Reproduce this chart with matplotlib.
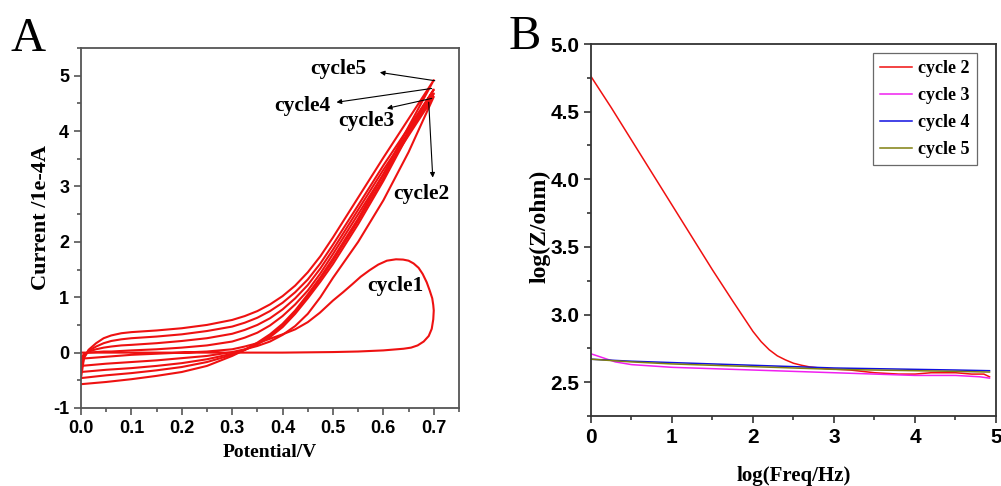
import numpy as np
import matplotlib
matplotlib.use("Agg")
import matplotlib.pyplot as plt
from matplotlib.ticker import MultipleLocator, FormatStrFormatter

plt.rcParams["axes.unicode_minus"] = False

SERIF = "Liberation Serif"
SANS  = "Liberation Sans"

# ── Panel A: cyclic voltammetry, 5 cycles ──────────────────────────────
# cycle 1 (nucleation loop)
c1_fwd_x = [0.0, 0.1, 0.2, 0.3, 0.4, 0.5, 0.55, 0.6, 0.64, 0.655, 0.668, 0.68, 0.69, 0.696, 0.699, 0.70]
c1_fwd_y = [0.0, 0.0, 0.0, 0.0, 0.0, 0.01, 0.02, 0.04, 0.07, 0.09, 0.13, 0.20, 0.30, 0.43, 0.60, 0.76]
c1_rev_x = [0.70, 0.699, 0.697, 0.692, 0.686, 0.678, 0.67, 0.66, 0.65, 0.639, 0.625, 0.607,
            0.59, 0.573, 0.555, 0.539, 0.52, 0.5, 0.474, 0.45, 0.425, 0.40, 0.375, 0.35,
            0.325, 0.30, 0.25, 0.20, 0.10, 0.0]
c1_rev_y = [0.76, 0.86, 0.98, 1.12, 1.27, 1.42, 1.53, 1.61, 1.66, 1.68, 1.685, 1.66,
            1.59, 1.49, 1.37, 1.24, 1.09, 0.94, 0.72, 0.55, 0.42, 0.33, 0.25, 0.17,
            0.11, 0.06, 0.02, 0.0, -0.04, -0.11]

# cycles 2-5: upper branch (0 -> 0.7 V) and lower branch (0.7 -> 0 V)
up_x = [0.0, 0.006, 0.015, 0.03, 0.045, 0.06, 0.08, 0.1, 0.15, 0.2, 0.25, 0.3,
        0.325, 0.35, 0.375, 0.4, 0.425, 0.45, 0.475, 0.5, 0.55, 0.6, 0.65, 0.7]
up_c2 = [-0.11, -0.02, 0.0, 0.01, 0.02, 0.02, 0.03, 0.04, 0.06, 0.09, 0.13, 0.20,
         0.27, 0.36, 0.49, 0.66, 0.87, 1.12, 1.43, 1.78, 2.50, 3.22, 3.92, 4.62]
up_c3 = [-0.24, -0.05, 0.02, 0.06, 0.09, 0.11, 0.13, 0.14, 0.17, 0.21, 0.26, 0.34,
         0.41, 0.50, 0.62, 0.78, 0.98, 1.22, 1.52, 1.86, 2.58, 3.30, 3.98, 4.68]
up_c4 = [-0.35, -0.08, 0.03, 0.11, 0.17, 0.21, 0.24, 0.26, 0.29, 0.33, 0.39, 0.47,
         0.54, 0.63, 0.75, 0.90, 1.09, 1.32, 1.61, 1.95, 2.66, 3.38, 4.06, 4.75]
up_c5 = [-0.46, -0.10, 0.05, 0.17, 0.26, 0.31, 0.35, 0.37, 0.40, 0.44, 0.50, 0.59,
         0.66, 0.75, 0.87, 1.02, 1.21, 1.45, 1.74, 2.08, 2.80, 3.52, 4.22, 4.92]

dn_x = [0.7, 0.65, 0.6, 0.55, 0.5, 0.475, 0.45, 0.425, 0.4, 0.375, 0.35, 0.325,
        0.3, 0.25, 0.2, 0.15, 0.1, 0.05, 0.0]
dn_c2 = [4.62, 3.62, 2.75, 2.00, 1.35, 1.00, 0.70, 0.48, 0.32, 0.20, 0.12, 0.06,
         0.01, -0.06, -0.10, -0.14, -0.17, -0.20, -0.24]
dn_c3 = [4.68, 3.95, 3.10, 2.32, 1.60, 1.28, 0.98, 0.70, 0.46, 0.28, 0.15, 0.05,
         -0.02, -0.12, -0.19, -0.24, -0.28, -0.31, -0.35]
dn_c4 = [4.75, 4.00, 3.15, 2.38, 1.66, 1.33, 1.02, 0.74, 0.49, 0.30, 0.16, 0.05,
         -0.04, -0.17, -0.26, -0.32, -0.37, -0.41, -0.46]
dn_c5 = [4.92, 4.08, 3.22, 2.42, 1.70, 1.36, 1.05, 0.76, 0.52, 0.33, 0.18, 0.05,
         -0.06, -0.24, -0.35, -0.42, -0.48, -0.53, -0.57]

# label text, label position, arrow tail, arrow head
cv_labels = ["cycle5", "cycle4", "cycle3", "cycle2", "cycle1"]
cv_label_xy = [(0.51, 5.13), (0.44, 4.46), (0.567, 4.19), (0.676, 2.87), (0.623, 1.21)]
cv_arrow_from = [(0.702, 4.91), (0.696, 4.77), (0.696, 4.59), (0.690, 4.52), None]
cv_arrow_to   = [(0.593, 5.06), (0.507, 4.52), (0.607, 4.41), (0.698, 3.16), None]

# ── Panel B: impedance magnitude vs frequency ─────────────────────────
eis_names  = ["cycle 2", "cycle 3", "cycle 4", "cycle 5"]
eis_colors = ["#f01010", "#f020f0", "#1010e0", "#808010"]
c2_f = [0, 0.25, 0.5, 0.75, 1.0, 1.25, 1.5, 1.75, 1.9, 2.0, 2.1, 2.2, 2.3, 2.4, 2.5,
        2.6, 2.7, 2.9, 3.2, 3.5, 3.8, 4.0, 4.2, 4.5, 4.7, 4.85, 4.92]
c2_z = [4.76, 4.53, 4.29, 4.05, 3.81, 3.57, 3.33, 3.10, 2.965, 2.875, 2.80, 2.74, 2.695, 2.665, 2.64,
        2.625, 2.613, 2.60, 2.59, 2.57, 2.56, 2.56, 2.57, 2.57, 2.56, 2.56, 2.54]
c3_f = [0, 0.15, 0.3, 0.5, 0.75, 1.0, 1.5, 2.0, 2.5, 3.0, 3.5, 4.0, 4.5, 4.8, 4.92]
c3_z = [2.71, 2.68, 2.65, 2.63, 2.62, 2.61, 2.60, 2.59, 2.58, 2.57, 2.56, 2.55, 2.55, 2.54, 2.53]
c45_f = [0, 0.5, 1.0, 1.5, 2.0, 2.5, 3.0, 3.5, 4.0, 4.5, 4.92]
c4_z = [2.67, 2.655, 2.645, 2.635, 2.625, 2.615, 2.605, 2.60, 2.595, 2.59, 2.585]
c5_z = [2.67, 2.65, 2.635, 2.625, 2.615, 2.605, 2.595, 2.59, 2.585, 2.58, 2.575]


def style_axes(ax, spine_color, tick_size):
    for sp in ax.spines.values():
        sp.set_color(spine_color)
        sp.set_linewidth(1.3)
    ax.tick_params(which="both", direction="out", top=False, right=False,
                   colors=spine_color, width=1.2)
    ax.tick_params(which="major", length=5)
    ax.tick_params(which="minor", length=3)
    for lab in ax.get_xticklabels() + ax.get_yticklabels():
        lab.set_fontfamily(SANS)
        lab.set_fontweight("bold")
        lab.set_fontsize(tick_size)
        lab.set_color("black")


fig = plt.figure(figsize=(10.01, 4.86), dpi=100)

# ── A ──
axA = fig.add_axes([0.0809, 0.1605, 0.3776, 0.7407])
red = "#ee1111"
axA.plot(c1_fwd_x + c1_rev_x, c1_fwd_y + c1_rev_y, color=red, lw=1.5)
for up, dn in [(up_c2, dn_c2), (up_c3, dn_c3), (up_c4, dn_c4), (up_c5, dn_c5)]:
    axA.plot(up_x + dn_x, up + dn, color=red, lw=1.5)

axA.set_xlim(0, 0.75)
axA.set_ylim(-1, 5.5)
axA.xaxis.set_minor_locator(MultipleLocator(0.05))
axA.yaxis.set_major_locator(MultipleLocator(1))
axA.yaxis.set_minor_locator(MultipleLocator(0.5))
axA.set_xticks([0, 0.1, 0.2, 0.3, 0.4, 0.5, 0.6, 0.7])
axA.xaxis.set_major_formatter(FormatStrFormatter("%.1f"))
style_axes(axA, "#555555", 13)

axA.set_xlabel("Potential/V", fontfamily=SERIF, fontweight="bold", fontsize=14)
axA.set_ylabel("Current /1e-4A", fontfamily=SERIF, fontweight="bold", fontsize=16)
axA.xaxis.set_label_coords(0.5, -0.10)
axA.yaxis.set_label_coords(-0.08, 0.53)

for name, xy, a0, a1 in zip(cv_labels, cv_label_xy, cv_arrow_from, cv_arrow_to):
    axA.text(xy[0], xy[1], name, ha="center", va="center",
             fontfamily=SERIF, fontweight="bold", fontsize=15.5)
    if a0 is not None:
        axA.annotate("", xy=a1, xytext=a0,
                     arrowprops=dict(arrowstyle="-|>", color="black", lw=0.8,
                                     mutation_scale=7, shrinkA=0, shrinkB=0))

fig.text(0.010, 0.895, "A", fontfamily=SERIF, fontsize=35, va="baseline", ha="left")

# ── B ──
axB = fig.add_axes([0.5904, 0.144, 0.4046, 0.7654])
axB.plot(c2_f, c2_z, color=eis_colors[0], lw=1.1, label=eis_names[0])
axB.plot(c3_f, c3_z, color=eis_colors[1], lw=1.1, label=eis_names[1])
axB.plot(c45_f, c4_z, color=eis_colors[2], lw=1.1, label=eis_names[2])
axB.plot(c45_f, c5_z, color=eis_colors[3], lw=1.1, label=eis_names[3])

axB.set_xlim(0, 5)
axB.set_ylim(2.25, 5.0)
axB.xaxis.set_major_locator(MultipleLocator(1))
axB.xaxis.set_minor_locator(MultipleLocator(0.5))
axB.yaxis.set_minor_locator(MultipleLocator(0.25))
axB.set_yticks([2.5, 3.0, 3.5, 4.0, 4.5, 5.0])
axB.yaxis.set_major_formatter(FormatStrFormatter("%.1f"))
style_axes(axB, "#333333", 15)

axB.set_xlabel("log(Freq/Hz)", fontfamily=SERIF, fontweight="bold", fontsize=15)
axB.set_ylabel("log(Z/ohm)", fontfamily=SERIF, fontweight="bold", fontsize=17)
axB.xaxis.set_label_coords(0.5, -0.135)
axB.yaxis.set_label_coords(-0.10, 0.51)

leg = axB.legend(loc="upper right", bbox_to_anchor=(0.953, 0.976), frameon=True,
                 fancybox=False, handlelength=1.75, handletextpad=0.35,
                 borderpad=0.4, labelspacing=0.55, borderaxespad=0,
                 prop=dict(family=SERIF, weight="bold", size=13))
leg.get_frame().set_edgecolor("#444444")
leg.get_frame().set_linewidth(0.9)

fig.text(0.508, 0.90, "B", fontfamily=SERIF, fontsize=35, va="baseline", ha="left")

fig.savefig("out.png", dpi=100)
